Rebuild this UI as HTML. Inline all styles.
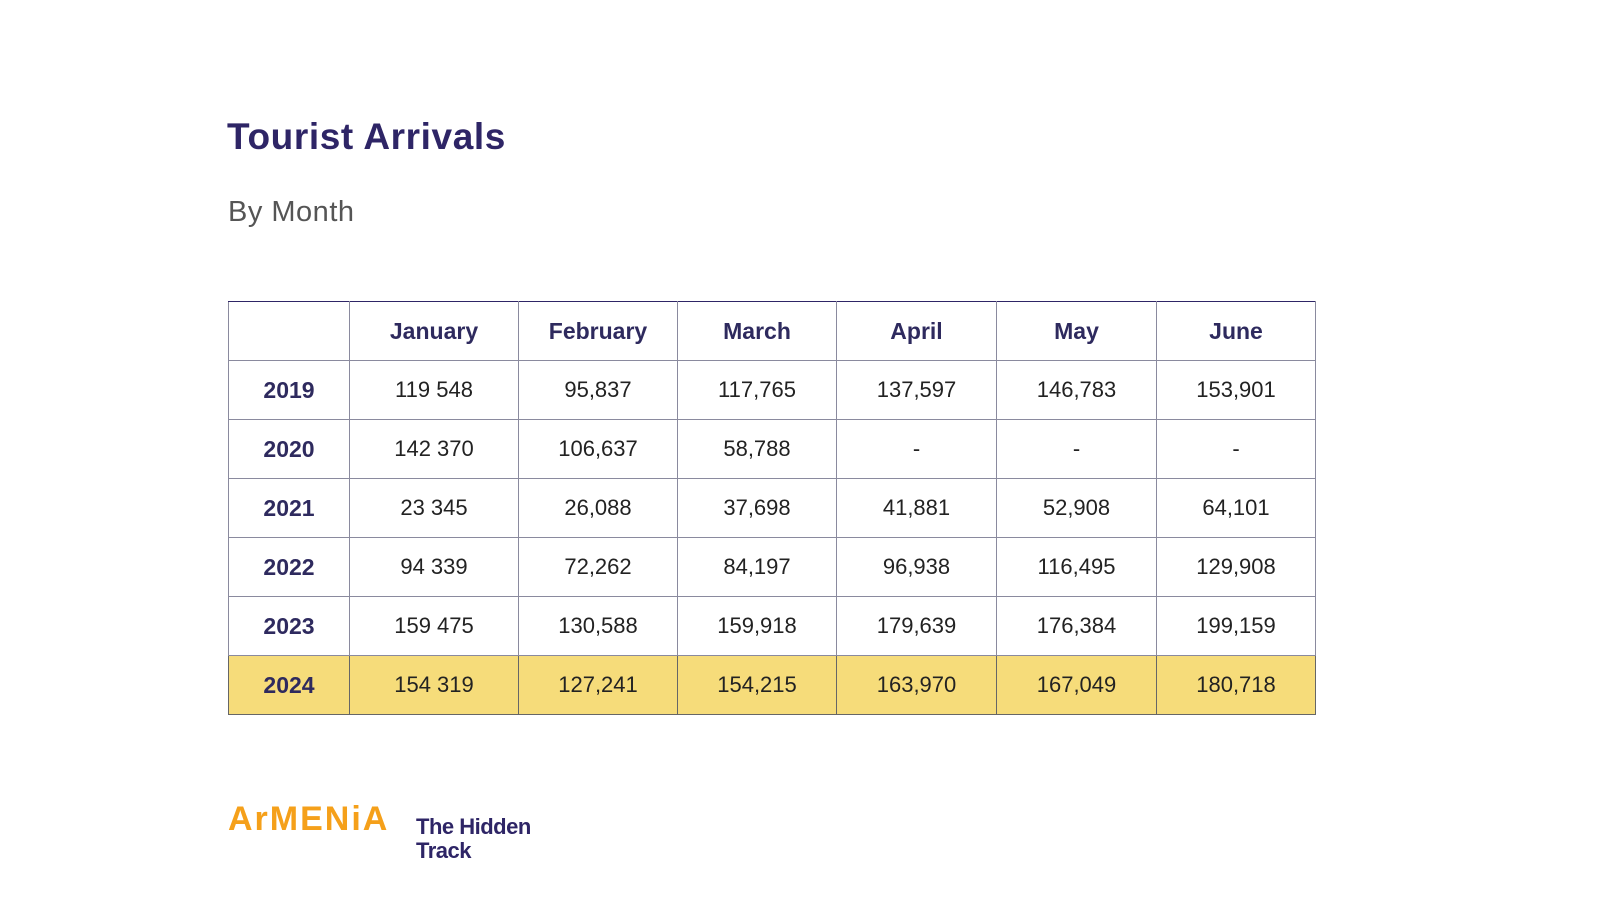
<!DOCTYPE html>
<html><head><meta charset="utf-8"><style>
html,body{margin:0;padding:0;background:#fff;width:1600px;height:900px;overflow:hidden;font-family:"Liberation Sans",sans-serif}
.t{position:absolute;left:227px;top:116px;font-size:37px;font-weight:bold;color:#2e2566;letter-spacing:0.6px}
.s{position:absolute;left:228px;top:196px;font-size:29px;color:#555;font-weight:normal;letter-spacing:0.5px}
table{position:absolute;left:228px;top:301px;border-collapse:collapse;table-layout:fixed}
td{border:1.5px solid #8a8a9e;height:58px;text-align:center;font-size:22px;color:#222;padding:0}
tr:first-child td{border-top:1.5px solid #2e2566}
td.h,td.y{font-weight:bold;color:#2e2a5e;font-size:23px}
tr.hl td{background:#f6dc7a;border-color:#666}
.a{position:absolute;left:228px;top:800px;font-size:34px;font-weight:bold;color:#f5a01a;letter-spacing:2px}
.b{position:absolute;left:416px;top:815px;font-size:22px;font-weight:bold;color:#2e2566;line-height:24px;letter-spacing:-0.5px}
</style></head><body>
<div class="t">Tourist Arrivals</div>
<div class="s">By Month</div>
<table>
<colgroup><col style="width:121px"><col style="width:169px"><col style="width:159px"><col style="width:159px"><col style="width:160px"><col style="width:160px"><col style="width:159px"></colgroup>
<tr><td></td><td class="h">January</td><td class="h">February</td><td class="h">March</td><td class="h">April</td><td class="h">May</td><td class="h">June</td></tr>
<tr><td class="y">2019</td><td>119 548</td><td>95,837</td><td>117,765</td><td>137,597</td><td>146,783</td><td>153,901</td></tr>
<tr><td class="y">2020</td><td>142 370</td><td>106,637</td><td>58,788</td><td>-</td><td>-</td><td>-</td></tr>
<tr><td class="y">2021</td><td>23 345</td><td>26,088</td><td>37,698</td><td>41,881</td><td>52,908</td><td>64,101</td></tr>
<tr><td class="y">2022</td><td>94 339</td><td>72,262</td><td>84,197</td><td>96,938</td><td>116,495</td><td>129,908</td></tr>
<tr><td class="y">2023</td><td>159 475</td><td>130,588</td><td>159,918</td><td>179,639</td><td>176,384</td><td>199,159</td></tr>
<tr class="hl"><td class="y">2024</td><td>154 319</td><td>127,241</td><td>154,215</td><td>163,970</td><td>167,049</td><td>180,718</td></tr>
</table>
<div class="a">ArMENiA</div>
<div class="b">The Hidden<br>Track</div>
</body></html>
